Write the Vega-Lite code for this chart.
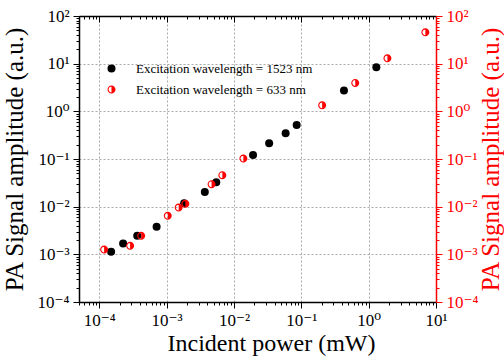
{
  "$schema": "https://vega.github.io/schema/vega-lite/v6.json",
  "autosize": "none",
  "width": 357,
  "height": 286,
  "padding": {"left": 79, "top": 16, "right": 68, "bottom": 56},
  "background": "white",
  "config": {
    "view": {"stroke": null},
    "font": "Liberation Serif, Times New Roman, DejaVu Serif, serif",
    "axis": {
      "labelFont": "Liberation Serif, Times New Roman, DejaVu Serif, serif",
      "titleFont": "Liberation Serif, Times New Roman, DejaVu Serif, serif",
      "titleFontWeight": "normal",
      "labelFontSize": 17,
      "titleFontSize": 24,
      "labelOverlap": false,
      "labelFlush": false,
      "labelBound": false,
      "domainWidth": 1.5,
      "tickWidth": 1,
      "gridColor": "#aaaaaa",
      "gridDash": [2, 2],
      "gridWidth": 1
    },
    "legend": {
      "labelFont": "Liberation Serif, Times New Roman, DejaVu Serif, serif",
      "labelFontSize": 13,
      "labelColor": "black",
      "labelLimit": 0
    }
  },
  "data": {
    "values": [
      {"series": "Excitation wavelength = 1523 nm", "power": 0.000150, "amp": 0.00113},
      {"series": "Excitation wavelength = 1523 nm", "power": 0.000226, "amp": 0.00168},
      {"series": "Excitation wavelength = 1523 nm", "power": 0.000366, "amp": 0.00244},
      {"series": "Excitation wavelength = 1523 nm", "power": 0.00071, "amp": 0.00378},
      {"series": "Excitation wavelength = 1523 nm", "power": 0.00182, "amp": 0.0118},
      {"series": "Excitation wavelength = 1523 nm", "power": 0.00369, "amp": 0.0204},
      {"series": "Excitation wavelength = 1523 nm", "power": 0.00546, "amp": 0.0326},
      {"series": "Excitation wavelength = 1523 nm", "power": 0.0192, "amp": 0.122},
      {"series": "Excitation wavelength = 1523 nm", "power": 0.0333, "amp": 0.214},
      {"series": "Excitation wavelength = 1523 nm", "power": 0.0585, "amp": 0.347},
      {"series": "Excitation wavelength = 1523 nm", "power": 0.0853, "amp": 0.519},
      {"series": "Excitation wavelength = 1523 nm", "power": 0.430, "amp": 2.72},
      {"series": "Excitation wavelength = 1523 nm", "power": 1.30, "amp": 8.41},
      {"series": "Excitation wavelength = 633 nm", "power": 0.000118, "amp": 0.00126},
      {"series": "Excitation wavelength = 633 nm", "power": 0.000287, "amp": 0.00151},
      {"series": "Excitation wavelength = 633 nm", "power": 0.000419, "amp": 0.00244},
      {"series": "Excitation wavelength = 633 nm", "power": 0.00104, "amp": 0.00641},
      {"series": "Excitation wavelength = 633 nm", "power": 0.00151, "amp": 0.00957},
      {"series": "Excitation wavelength = 633 nm", "power": 0.00190, "amp": 0.0115},
      {"series": "Excitation wavelength = 633 nm", "power": 0.00465, "amp": 0.0296},
      {"series": "Excitation wavelength = 633 nm", "power": 0.00672, "amp": 0.0457},
      {"series": "Excitation wavelength = 633 nm", "power": 0.0138, "amp": 0.102},
      {"series": "Excitation wavelength = 633 nm", "power": 0.204, "amp": 1.34},
      {"series": "Excitation wavelength = 633 nm", "power": 0.632, "amp": 3.94},
      {"series": "Excitation wavelength = 633 nm", "power": 1.90, "amp": 12.97},
      {"series": "Excitation wavelength = 633 nm", "power": 6.95, "amp": 45.5}
    ]
  },
  "resolve": {"axis": {"x": "independent", "y": "independent"}},
  "layer": [
    {
      "mark": {"type": "point", "opacity": 0},
      "encoding": {
        "x": {
          "field": "power", "type": "quantitative",
          "scale": {"type": "log", "domain": [0.00005, 10], "nice": false},
          "axis": {
            "orient": "top", "labels": false, "title": null, "grid": false,
            "domainColor": "black", "tickColor": "black",
            "values": [0.00005,0.00006,0.00007,0.00008,0.00009,0.0001,0.0002,0.0003,0.0004,0.0005,0.0006,0.0007,0.0008,0.0009,0.001,0.002,0.003,0.004,0.005,0.006,0.007,0.008,0.009,0.01,0.02,0.03,0.04,0.05,0.06,0.07,0.08,0.09,0.1,0.2,0.3,0.4,0.5,0.6,0.7,0.8,0.9,1,2,3,4,5,6,7,8,9,10],
            "tickSize": {"condition": {"test": "abs(log(datum.value)/LN10 - round(log(datum.value)/LN10)) < 0.0001", "value": -6}, "value": -3}
          }
        },
        "y": {
          "field": "amp", "type": "quantitative",
          "scale": {"type": "log", "domain": [0.0001, 100], "nice": false},
          "axis": {
            "orient": "right", "grid": false,
            "domainColor": "red", "tickColor": "red", "labelColor": "red", "titleColor": "red",
            "title": "PA Signal amplitude (a.u.)",
            "titleAngle": 270, "titleAlign": "center", "titleBaseline": "alphabetic",
            "titleX": 62, "titleY": 143, "titleFontSize": 25,
            "labelPadding": 4,
            "values": [0.0001,0.0002,0.0003,0.0004,0.0005,0.0006,0.0007,0.0008,0.0009,0.001,0.002,0.003,0.004,0.005,0.006,0.007,0.008,0.009,0.01,0.02,0.03,0.04,0.05,0.06,0.07,0.08,0.09,0.1,0.2,0.3,0.4,0.5,0.6,0.7,0.8,0.9,1,2,3,4,5,6,7,8,9,10,20,30,40,50,60,70,80,90,100],
            "labelExpr": "abs(log(datum.value)/LN10 - round(log(datum.value)/LN10)) > 0.0001 ? '' : ['10⁻⁴','10⁻³','10⁻²','10⁻¹','10⁰','10¹','10²'][round(log(datum.value)/LN10)+4]",
            "tickSize": {"condition": {"test": "abs(log(datum.value)/LN10 - round(log(datum.value)/LN10)) < 0.0001", "value": 6}, "value": 3}
          }
        }
      }
    },
    {
      "mark": {"type": "point", "filled": true, "opacity": 1, "strokeWidth": 0},
      "encoding": {
        "x": {
          "field": "power", "type": "quantitative",
          "scale": {"type": "log", "domain": [0.00005, 10], "nice": false},
          "axis": {
            "orient": "bottom", "grid": true,
            "domainColor": "black", "tickColor": "black", "labelColor": "black",
            "title": "Incident power (mW)",
            "titleX": 192, "titleY": 48, "titleBaseline": "alphabetic", "titleAlign": "center",
            "labelPadding": 4,
            "values": [0.00005,0.00006,0.00007,0.00008,0.00009,0.0001,0.0002,0.0003,0.0004,0.0005,0.0006,0.0007,0.0008,0.0009,0.001,0.002,0.003,0.004,0.005,0.006,0.007,0.008,0.009,0.01,0.02,0.03,0.04,0.05,0.06,0.07,0.08,0.09,0.1,0.2,0.3,0.4,0.5,0.6,0.7,0.8,0.9,1,2,3,4,5,6,7,8,9,10],
            "labelExpr": "abs(log(datum.value)/LN10 - round(log(datum.value)/LN10)) > 0.0001 ? '' : ['10⁻⁴','10⁻³','10⁻²','10⁻¹','10⁰','10¹','10²'][round(log(datum.value)/LN10)+4]",
            "tickSize": {"condition": {"test": "abs(log(datum.value)/LN10 - round(log(datum.value)/LN10)) < 0.0001", "value": 6}, "value": 3},
            "gridOpacity": {"condition": {"test": "abs(log(datum.value)/LN10 - round(log(datum.value)/LN10)) < 0.0001 && datum.value < 9", "value": 1}, "value": 0}
          }
        },
        "y": {
          "field": "amp", "type": "quantitative",
          "scale": {"type": "log", "domain": [0.0001, 100], "nice": false},
          "axis": {
            "orient": "left", "grid": true,
            "domainColor": "black", "tickColor": "black", "labelColor": "black",
            "title": "PA Signal amplitude (a.u.)",
            "titleAngle": 270, "titleAlign": "center", "titleBaseline": "alphabetic",
            "titleX": -57, "titleY": 143, "titleFontSize": 25,
            "labelPadding": 4,
            "values": [0.0001,0.0002,0.0003,0.0004,0.0005,0.0006,0.0007,0.0008,0.0009,0.001,0.002,0.003,0.004,0.005,0.006,0.007,0.008,0.009,0.01,0.02,0.03,0.04,0.05,0.06,0.07,0.08,0.09,0.1,0.2,0.3,0.4,0.5,0.6,0.7,0.8,0.9,1,2,3,4,5,6,7,8,9,10,20,30,40,50,60,70,80,90,100],
            "labelExpr": "abs(log(datum.value)/LN10 - round(log(datum.value)/LN10)) > 0.0001 ? '' : ['10⁻⁴','10⁻³','10⁻²','10⁻¹','10⁰','10¹','10²'][round(log(datum.value)/LN10)+4]",
            "tickSize": {"condition": {"test": "abs(log(datum.value)/LN10 - round(log(datum.value)/LN10)) < 0.0001", "value": 6}, "value": 3},
            "gridOpacity": {"condition": {"test": "abs(log(datum.value)/LN10 - round(log(datum.value)/LN10)) < 0.0001 && datum.value > 0.0002 && datum.value < 90", "value": 1}, "value": 0}
          }
        },
        "color": {
          "field": "series", "type": "nominal",
          "scale": {"domain": ["Excitation wavelength = 1523 nm", "Excitation wavelength = 633 nm"], "range": ["black", "red"]},
          "legend": {
            "title": null, "orient": "none", "legendX": 26, "legendY": 46,
            "padding": 0, "symbolSize": 64, "labelOffset": 18, "rowPadding": 7,
            "symbolStrokeWidth": 0, "labelLimit": 0
          }
        },
        "shape": {
          "field": "series", "type": "nominal",
          "scale": {"domain": ["Excitation wavelength = 1523 nm", "Excitation wavelength = 633 nm"], "range": ["circle", "M-1,0A1,1,0,1,1,1,0A1,1,0,1,1,-1,0Z M-0.72,0A0.72,0.72,0,1,0,0.72,0A0.72,0.72,0,1,0,-0.72,0Z M0,-1A1,1,0,0,1,0,1Z"]},
          "legend": {
            "title": null, "orient": "none", "legendX": 26, "legendY": 46,
            "padding": 0, "symbolSize": 64, "labelOffset": 18, "rowPadding": 7,
            "symbolStrokeWidth": 0, "labelLimit": 0
          }
        },
        "size": {"value": 64}
      }
    }
  ]
}
